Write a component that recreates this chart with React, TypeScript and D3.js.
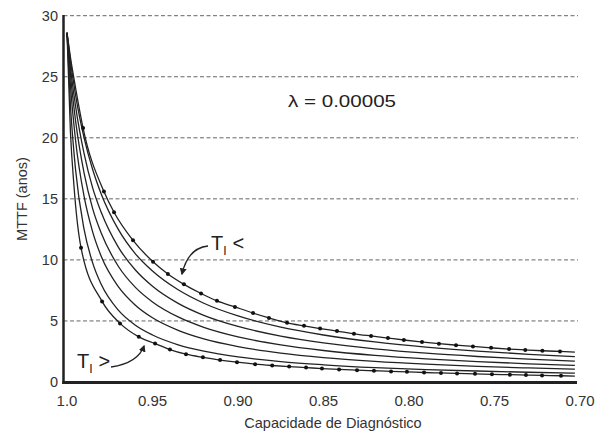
import React from "react";
import * as d3 from "d3";

// ---- data ----
const X_TICKS = [1.0, 0.95, 0.9, 0.85, 0.8, 0.75, 0.7];
const X_TICK_LABELS = ["1.0", "0.95", "0.90", "0.85", "0.80", "0.75", "0.70"];
const Y_TICKS = [0, 5, 10, 15, 20, 25, 30];
const GRID_VALUES = [5, 10, 15, 20, 25, 30];

// sample coverage values for the plain (undotted) curves
const C_SAMPLE = [1.0, 0.998, 0.995, 0.99, 0.985, 0.98, 0.97, 0.96, 0.95, 0.935, 0.92, 0.9, 0.875, 0.85, 0.82, 0.79, 0.76, 0.73, 0.703];
const CURVE_2 = [28.6, 26.3, 23.5, 20.0, 17.4, 15.4, 12.5, 10.5, 9.09, 7.55, 6.45, 5.41, 4.49, 3.85, 3.28, 2.86, 2.53, 2.27, 2.08];
const CURVE_3 = [28.6, 25.8, 22.6, 18.7, 15.9, 13.9, 11.05, 9.17, 7.84, 6.44, 5.46, 4.55, 3.76, 3.2, 2.72, 2.36, 2.09, 1.87, 1.71];
const CURVE_4 = [28.6, 25.2, 21.4, 17.1, 14.2, 12.2, 9.48, 7.75, 6.56, 5.33, 4.48, 3.7, 3.04, 2.58, 2.18, 1.89, 1.67, 1.49, 1.36];
const CURVE_5 = [28.6, 24.3, 19.8, 15.2, 12.3, 10.3, 7.81, 6.29, 5.26, 4.23, 3.53, 2.9, 2.37, 2.0, 1.69, 1.46, 1.28, 1.15, 1.05];
const CURVE_6 = [28.6, 22.7, 17.4, 12.5, 9.76, 8.0, 5.88, 4.65, 3.85, 3.05, 2.53, 2.06, 1.67, 1.41, 1.18, 1.02, 0.9, 0.8, 0.73];

// top curve (T_I smallest): start, dots, end
const TOP_START: [number, number][] = [[1.0, 28.6], [0.998, 26.6], [0.995, 24.1]];
const TOP_DOTS: [number, number][] = [
  [0.9906, 20.8], [0.9784, 15.6], [0.9725, 13.9], [0.9614, 11.6], [0.9497, 9.85],
  [0.941, 8.85], [0.9316, 8.0], [0.9216, 7.25], [0.9123, 6.65], [0.9018, 6.15],
  [0.8912, 5.65], [0.8819, 5.25], [0.8713, 4.85], [0.8614, 4.6], [0.852, 4.38],
  [0.8421, 4.17], [0.8322, 3.95], [0.8222, 3.77], [0.8123, 3.6], [0.803, 3.44],
  [0.7924, 3.28], [0.7825, 3.14], [0.7725, 3.02], [0.7626, 2.91], [0.752, 2.8],
  [0.7415, 2.7], [0.732, 2.63], [0.722, 2.56], [0.7117, 2.5],
];
const TOP_END: [number, number][] = [[0.703, 2.45]];

// bottom curve (T_I largest)
const BOT_START: [number, number][] = [[1.0, 28.6], [0.998, 20.5], [0.996, 16.2]];
const BOT_DOTS: [number, number][] = [
  [0.9918, 11.0], [0.9795, 6.6], [0.969, 4.8], [0.958, 3.7], [0.9485, 3.15],
  [0.9398, 2.66], [0.9304, 2.28], [0.9205, 2.02], [0.9105, 1.8], [0.9006, 1.62],
  [0.89, 1.46], [0.88, 1.35], [0.8701, 1.26], [0.8602, 1.18], [0.8509, 1.1],
  [0.8409, 1.03], [0.8304, 0.97], [0.8205, 0.92], [0.8105, 0.87], [0.8012, 0.83],
  [0.7912, 0.78], [0.7813, 0.74], [0.7719, 0.7], [0.7614, 0.67], [0.7515, 0.63],
  [0.741, 0.6], [0.7316, 0.57], [0.7222, 0.54], [0.7111, 0.51],
];
const BOT_END: [number, number][] = [[0.703, 0.48]];

const X_TITLE = "Capacidade de Diagnóstico";
const Y_TITLE = "MTTF (anos)";
const LAMBDA_LABEL = "λ = 0.00005";

const FONT = "'Liberation Sans', Arial, Helvetica, sans-serif";

export default function App() {
  const x = d3.scaleLinear().domain([1.0, 0.7]).range([67, 580]);
  const y = d3.scaleLinear().domain([0, 30]).range([382, 15.7]);

  const line = d3
    .line<[number, number]>()
    .x((d) => x(d[0]))
    .y((d) => y(d[1]))
    .curve(d3.curveMonotoneX);

  const plain = [CURVE_2, CURVE_3, CURVE_4, CURVE_5, CURVE_6].map((vals) =>
    C_SAMPLE.map((c, i) => [c, vals[i]] as [number, number])
  );
  const top = [...TOP_START, ...TOP_DOTS, ...TOP_END];
  const bot = [...BOT_START, ...BOT_DOTS, ...BOT_END];

  const axisLeftX = 63.5;
  const axisBottomY = 382.5;
  const rightEnd = 578;

  return (
    <svg
      width={596}
      height={436}
      style={{ position: "absolute", left: 0, top: 0, background: "#fff" }}
      fontFamily={FONT}
    >
      <defs>
        <marker
          id="ah"
          viewBox="0 0 10 10"
          refX="8"
          refY="5"
          markerWidth="7"
          markerHeight="7"
          markerUnits="userSpaceOnUse"
          orient="auto"
        >
          <path d="M0,0 L10,5 L0,10 z" fill="#222" />
        </marker>
      </defs>
      <rect width={596} height={436} fill="#fff" />

      {/* grid */}
      {GRID_VALUES.map((v) => (
        <line
          key={v}
          x1={axisLeftX}
          x2={rightEnd}
          y1={y(v)}
          y2={y(v)}
          stroke="#666"
          strokeWidth={1}
          strokeDasharray="4,2.5"
        />
      ))}

      {/* curves */}
      {plain.map((pts, i) => (
        <path key={i} d={line(pts) || ""} fill="none" stroke="#222" strokeWidth={1.3} />
      ))}
      <path d={line(top) || ""} fill="none" stroke="#222" strokeWidth={1.3} />
      <path d={line(bot) || ""} fill="none" stroke="#222" strokeWidth={1.3} />
      {TOP_DOTS.map((d, i) => (
        <circle key={"t" + i} cx={x(d[0])} cy={y(d[1])} r={2} fill="#111" />
      ))}
      {BOT_DOTS.map((d, i) => (
        <circle key={"b" + i} cx={x(d[0])} cy={y(d[1])} r={2} fill="#111" />
      ))}

      {/* axes */}
      <line x1={axisLeftX} x2={axisLeftX} y1={15} y2={axisBottomY + 1.5} stroke="#222" strokeWidth={2.5} />
      <line x1={axisLeftX - 1.2} x2={577} y1={axisBottomY} y2={axisBottomY} stroke="#222" strokeWidth={3} />

      {/* y tick labels */}
      {Y_TICKS.map((v) => (
        <text
          key={v}
          x={58}
          y={y(v)}
          dy="0.36em"
          textAnchor="end"
          fontSize={14.5}
          fill="#333"
        >
          {v}
        </text>
      ))}

      {/* x tick labels */}
      {X_TICKS.map((c, i) => (
        <text key={c} x={x(c)} y={406} textAnchor="middle" fontSize={15} fill="#333">
          {X_TICK_LABELS[i]}
        </text>
      ))}

      {/* titles */}
      <text x={333} y={428} textAnchor="middle" fontSize={14.5} fill="#333">
        {X_TITLE}
      </text>
      <text
        transform={`translate(27, 199) rotate(-90)`}
        textAnchor="middle"
        fontSize={14.5}
        fill="#333"
      >
        {Y_TITLE}
      </text>

      {/* lambda label */}
      <text x={288} y={106.5} fontSize={16.5} fill="#222" textLength={108} lengthAdjust="spacingAndGlyphs">
        {LAMBDA_LABEL}
      </text>

      {/* T_I < annotation */}
      <text x={211} y={250} fontSize={20} fill="#222">
        T
        <tspan fontSize={12} dy={5}>I</tspan>
        <tspan fontSize={20} dy={-5} dx={6}>&lt;</tspan>
      </text>
      <path d="M208,246 Q188,248 182,274" fill="none" stroke="#222" strokeWidth={1.3} markerEnd="url(#ah)" />

      {/* T_I > annotation */}
      <text x={77} y={368} fontSize={20} fill="#222">
        T
        <tspan fontSize={12} dy={5}>I</tspan>
        <tspan fontSize={20} dy={-5} dx={6}>&gt;</tspan>
      </text>
      <path d="M111,367 Q138,363 144,346" fill="none" stroke="#222" strokeWidth={1.3} markerEnd="url(#ah)" />
    </svg>
  );
}
